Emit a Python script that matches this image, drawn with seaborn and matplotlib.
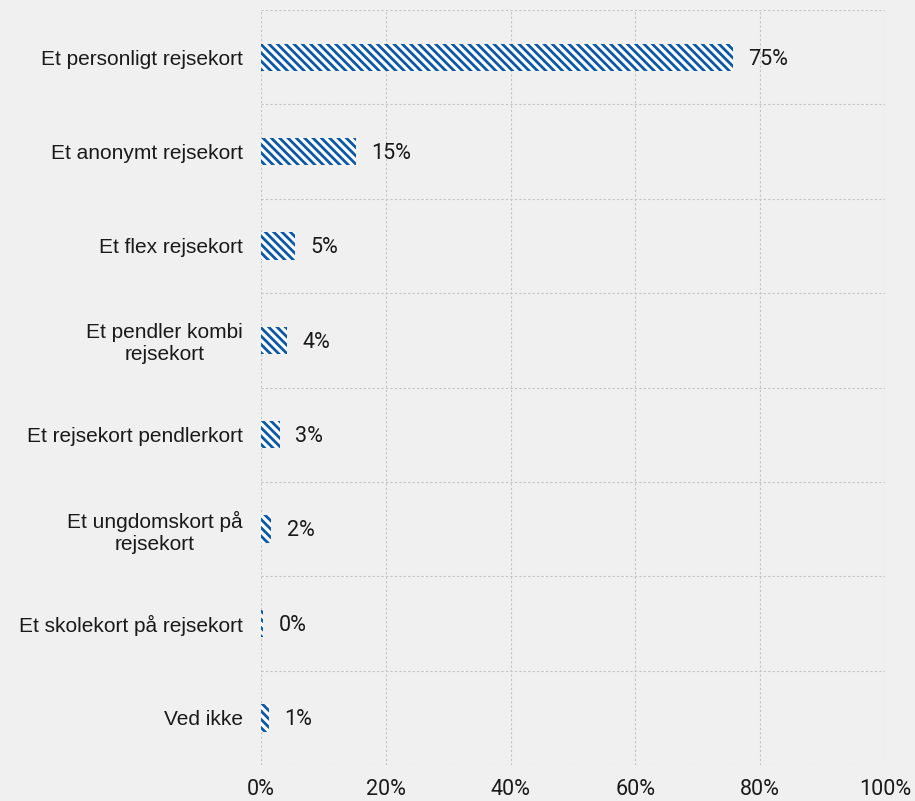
import matplotlib
matplotlib.use("Agg")
import matplotlib.pyplot as plt
import seaborn as sns
import pandas as pd

categories = [
    "Et personligt rejsekort",
    "Et anonymt rejsekort",
    "Et flex rejsekort",
    "Et pendler kombi\nrejsekort",
    "Et rejsekort pendlerkort",
    "Et ungdomskort på\nrejsekort",
    "Et skolekort på rejsekort",
    "Ved ikke",
]
values = [75.6, 15.2, 5.5, 4.2, 3.0, 1.6, 0.3, 1.3]
value_labels = ["75%", "15%", "5%", "4%", "3%", "2%", "0%", "1%"]
x_ticks = [0, 20, 40, 60, 80, 100]

BG = "#f0f0f0"
BLUE = "#0b58a8"
GRID = "#c4c4c4"

sns.set_style("white")
plt.rcParams["font.family"] = ["Liberation Sans", "DejaVu Sans"]
plt.rcParams["hatch.linewidth"] = 2.0

df = pd.DataFrame({"kategori": categories, "andel": values})

fig = plt.figure(figsize=(9.15, 8.01), dpi=100, facecolor=BG)
ax = fig.add_axes([0.2852, 0.0449, 0.6820, 0.9426])
ax.set_facecolor(BG)

sns.barplot(
    data=df,
    y="kategori",
    x="andel",
    orient="h",
    color="white",
    width=0.29,
    ax=ax,
)
for bar in ax.patches:
    bar.set_facecolor("white")
    bar.set_edgecolor(BLUE)
    bar.set_hatch("\\\\\\\\")
    bar.set_linewidth(0)

for i, (v, lab) in enumerate(zip(values, value_labels)):
    ax.text(v + 2.5, i + 0.02, lab, va="center", ha="left", fontsize=15.5,
            color="#1a1a1a", family=["Roboto", "DejaVu Sans"])

ax.set_xlim(0, 100)
ax.set_ylim(len(categories) - 0.5, -0.5)
ax.set_xticks(x_ticks)
ax.set_xticklabels([f"{t}%" for t in x_ticks], fontsize=15.5,
                   family=["Roboto", "DejaVu Sans"], color="#1a1a1a")
ax.set_yticks(range(len(categories)))
ax.set_yticklabels(categories, fontsize=15, ha="right", multialignment="center",
                   color="#1a1a1a")
ax.tick_params(axis="y", pad=13, length=0)
ax.tick_params(axis="x", pad=10, length=0)
ax.set_yticks([i - 0.5 for i in range(len(categories) + 1)], minor=True)
ax.tick_params(axis="y", which="minor", length=0)

ax.grid(True, axis="x", which="major", linestyle=(0, (2, 2)), color=GRID, linewidth=0.8)
ax.grid(True, axis="y", which="minor", linestyle=(0, (2, 2)), color=GRID, linewidth=0.8)
ax.grid(False, axis="y", which="major")
ax.set_axisbelow(True)
for s in ax.spines.values():
    s.set_visible(False)
ax.set_xlabel("")
ax.set_ylabel("")

fig.savefig("out.png", dpi=100, facecolor=BG)
plt.close(fig)
